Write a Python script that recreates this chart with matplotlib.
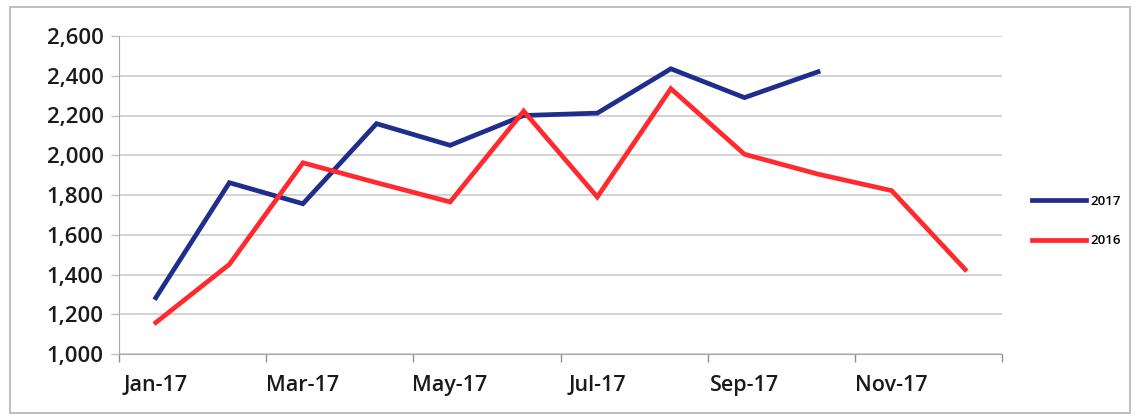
import matplotlib
matplotlib.use('Agg')
import matplotlib.pyplot as plt
from matplotlib.patches import Rectangle

plt.rcParams['font.family'] = ['Open Sans', 'DejaVu Sans']

months = ['Jan-17', 'Feb-17', 'Mar-17', 'Apr-17', 'May-17', 'Jun-17',
          'Jul-17', 'Aug-17', 'Sep-17', 'Oct-17', 'Nov-17', 'Dec-17']
vals_2017 = [1283, 1862, 1756, 2159, 2050, 2200, 2212, 2435, 2290, 2420]
vals_2016 = [1158, 1451, 1962, 1862, 1765, 2222, 1790, 2335, 2005, 1905, 1822, 1425]
y_ticks = [1000, 1200, 1400, 1600, 1800, 2000, 2200, 2400, 2600]

fig = plt.figure(figsize=(11.38, 4.2), dpi=100)
ax = fig.add_axes([119/1138, 1 - 354/420, (1002 - 119)/1138, (354 - 36)/420])

x16 = list(range(len(vals_2016)))
x17 = list(range(len(vals_2017)))
ax.plot(x17, vals_2017, color='#1f2d8c', lw=3.4, label='2017', solid_joinstyle='miter', zorder=3)
ax.plot(x16, vals_2016, color='#ff2a2e', lw=3.4, label='2016', solid_joinstyle='miter', zorder=3)

ax.set_xlim(-0.5, 11.5)
ax.set_ylim(1000, 2600)
ax.set_yticks(y_ticks)
ax.set_yticklabels([f'{v:,}' for v in y_ticks], fontsize=16, fontweight='semibold', color='#1a1a1a')

# tick marks between month pairs, labels on every other month
ax.set_xticks([i - 0.5 for i in range(0, 13, 2)])
ax.set_xticklabels([])
ax.set_xticks(list(range(0, 12, 2)), minor=True)
ax.set_xticklabels(months[::2], minor=True, fontsize=15.5, fontweight='semibold', color='#1a1a1a')
ax.tick_params(axis='x', which='minor', length=0, pad=15)
ax.tick_params(axis='x', which='major', length=6, color='#909090', width=1)
ax.tick_params(axis='y', length=6, color='#c0c0c0', width=1, pad=5)

ax.yaxis.grid(True, color='#c8c8c8', lw=1.1)
ax.set_axisbelow(True)
for s in ['top', 'right']:
    ax.spines[s].set_visible(False)
ax.spines['left'].set_color('#a8a8a8')
ax.spines['bottom'].set_color('#a8a8a8')

fig.legend(loc='center left', bbox_to_anchor=(1020/1138, 1 - 221/420), frameon=False,
           prop={'size': 9.5, 'weight': 'semibold'}, handlelength=4.1, handletextpad=0.3,
           labelspacing=2.0)

fig.patches.append(Rectangle((10/1138, 7/420), 1120/1138, 406/420, transform=fig.transFigure,
                             fill=False, edgecolor='#b4b4b4', lw=1.2))

fig.savefig('out.png', dpi=100)
